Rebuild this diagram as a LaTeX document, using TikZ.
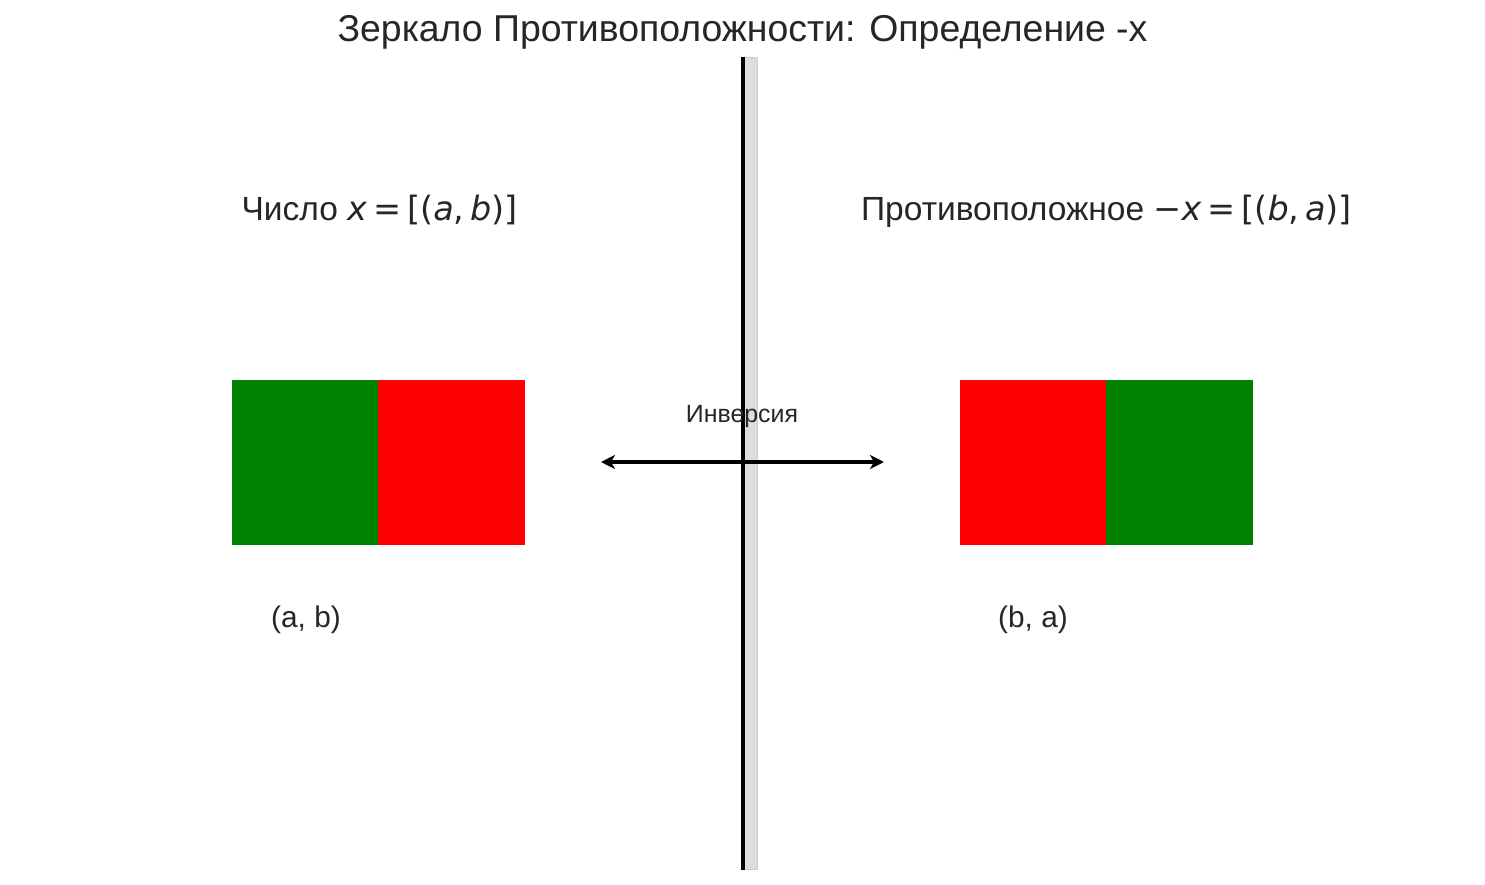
\documentclass[tikz,border=0pt]{standalone}
\usepackage{fontspec}
\setmainfont{Liberation Sans}
\newfontfamily\djv{DejaVu Sans}
\usetikzlibrary{arrows.meta}
\definecolor{txt}{HTML}{262626}
\definecolor{mgreen}{HTML}{008000}
\definecolor{mred}{HTML}{FF0000}
\definecolor{mirrorfill}{HTML}{DDDDDD}
\definecolor{mirrordraw}{HTML}{CCCCCC}
\newcommand{\mi}[1]{{\djv\itshape #1}}
\newcommand{\mathlabel}[1]{{\djv #1}}
\newcommand{\eqsp}{\hspace{0.18em}}
\begin{document}
\begin{tikzpicture}[x=1pt,y=-1pt,
  txtstyle/.style={text=txt,inner sep=0pt,anchor=base},
  half/.style={draw=none,minimum width=146.5pt,minimum height=164.5pt,inner sep=0pt,anchor=north west},
  tipstyle/.tip={Stealth[length=14pt,width=14pt,inset=4pt]}]
\useasboundingbox (0,0) rectangle (1485,885);
\fill[white] (0,0) rectangle (1485,885);
% title
\node[txtstyle,font=\fontsize{37.4}{42}\selectfont] (title) at (742.5,42) {Зеркало Противоположности: Определение -x};
% mirror
\node[draw=mirrordraw,fill=mirrorfill,line width=1pt,minimum width=13pt,minimum height=812pt,inner sep=0pt,anchor=north west] (glass) at (744,57) {};
\coordinate (mtop) at (743,57);
\coordinate (mbot) at (743,870);
\draw[black,line width=3.5pt] (mtop) -- (mbot);
% left block
\node[half,fill=mgreen] (la) at (232,380) {};
\node[half,fill=mred] (lb) at (378,380) {};
% right block
\node[half,fill=mred] (rb) at (960,380) {};
\node[half,fill=mgreen] (ra) at (1106,380) {};
% labels
\node[txtstyle,font=\fontsize{33.5}{38}\selectfont] (llab) at (379.5,221) {Число \mathlabel{\mi{x}\eqsp=\eqsp[(\mi{a},\,\mi{b})]}};
\node[txtstyle,font=\fontsize{33.5}{38}\selectfont] (rlab) at (1106.5,221) {Противоположное \mathlabel{−\mi{x}\eqsp=\eqsp[(\mi{b},\,\mi{a})]}};
\node[txtstyle,font=\fontsize{29.8}{34}\selectfont] (lpair) at (306,627) {(a, b)};
\node[txtstyle,font=\fontsize{29.8}{34}\selectfont] (rpair) at (1033,627) {(b, a)};
% arrow
\coordinate (aleft) at (601,462);
\coordinate (aright) at (884,462);
\draw[black,line width=4pt,tipstyle-tipstyle] (aleft) -- (aright);
\node[txtstyle,font=\fontsize{24.9}{28}\selectfont] (inv) at (742,422) {Инверсия};
\end{tikzpicture}
\end{document}
